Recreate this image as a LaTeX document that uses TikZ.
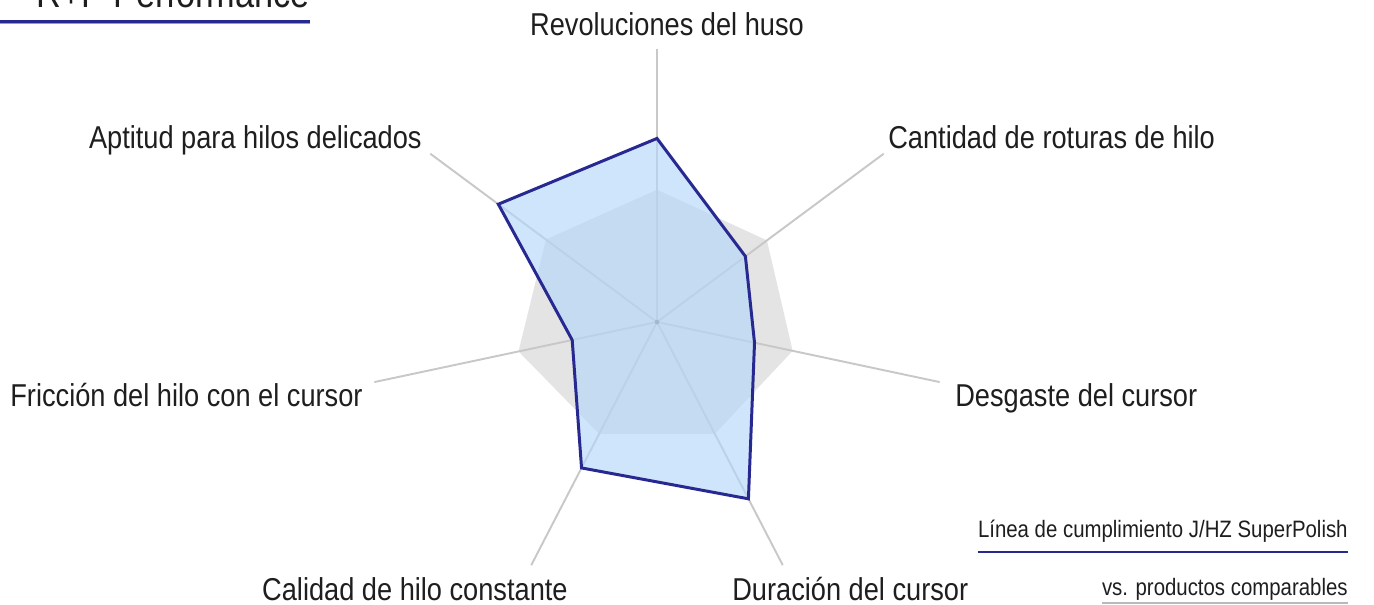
\documentclass[tikz,border=0pt]{standalone}
\usepackage{fontspec}
\setmainfont{Liberation Sans}[FakeStretch=0.86]
\usetikzlibrary{calc}
\definecolor{navyline}{RGB}{40,40,145}
\definecolor{lightnavy}{RGB}{150,150,215}
\definecolor{fillblue}{RGB}{180,215,250}
\definecolor{axisgray}{RGB}{200,200,200}
\definecolor{areagray}{RGB}{228,228,228}
\definecolor{rulegray}{RGB}{185,185,185}
\definecolor{txtgray}{RGB}{30,30,30}

\tikzset{
  axislabel/.style={inner sep=0pt, text=txtgray, font=\fontsize{18}{20}\selectfont},
  legendlabel/.style={inner sep=0pt, text=txtgray, font=\fontsize{13.5}{15}\selectfont},
  axisline/.style={color=axisgray, line width=1.1pt},
}

\begin{document}
\begin{tikzpicture}[x=0.02cm, y=-0.02cm]
    \useasboundingbox (0,0) rectangle (1374,605);

    % Title (cut at the top edge)
    \node[anchor=base west, inner sep=0pt, text=txtgray, font=\fontsize{22.7}{26}\selectfont] (title) at (36,8) {R+P Performance};
    \draw[color=navyline, line width=1.4pt] (0,21.3) -- ($(title.base east)+(0,13.3)$);
    \draw[color=lightnavy, line width=0.7pt] (0,23.4) -- ($(title.base east)+(0,15.4)$);

    % Radar
    \coordinate (ctr) at (657,322);
    \begin{scope}[shift={(ctr)}, x=5.8cm, y=5.4cm]
        \coordinate (ax1) at (90:1.01);
        \coordinate (ax2) at (38.57:1);
        \coordinate (ax3) at (-12.86:1);
        \coordinate (ax4) at (-64.29:1);
        \coordinate (ax5) at (-115.71:1);
        \coordinate (ax6) at (-167.14:1);
        \coordinate (ax7) at (141.43:1);

        % comparable products
        \fill[areagray] (90:0.49) -- (38.57:0.485) -- (-12.86:0.48) -- (-64.29:0.46)
            -- (-115.71:0.46) -- (-167.14:0.49) -- (141.43:0.49) -- cycle;

        % Axes
        \draw[axisline] (ctr) -- (ax1);
        \draw[axisline] (ctr) -- (ax2);
        \draw[axisline] (ctr) -- (ax3);
        \draw[axisline] (ctr) -- (ax4);
        \draw[axisline] (ctr) -- (ax5);
        \draw[axisline] (ctr) -- (ax6);
        \draw[axisline] (ctr) -- (ax7);
        \fill[color=gray] (ctr) circle (1.3pt);

        % J/HZ SuperPolish
        \filldraw[fill=fillblue, fill opacity=0.65, draw=navyline, line width=1.7pt, line join=miter]
            (90:0.68) -- (38.57:0.39) -- (-12.86:0.345) -- (-64.29:0.727)
            -- (-115.71:0.60) -- (-167.14:0.30) -- (141.43:0.70) -- cycle;
    \end{scope}

    % Axis labels
    \node[axislabel, anchor=base] (revol) at (667,35) {Revoluciones del huso};
    \node[axislabel, anchor=base west] (roturas) at (888,148) {Cantidad de roturas de hilo};
    \node[axislabel, anchor=base west] (desgaste) at (955,406) {Desgaste del cursor};
    \node[axislabel, anchor=base west] (duracion) at (732,600) {Duración del cursor};
    \node[axislabel, anchor=base east] (calidad) at (568,600) {Calidad de hilo constante};
    \node[axislabel, anchor=base west] (friccion) at (10,406) {Fricción del hilo con el cursor};
    \node[axislabel, anchor=base east] (aptitud) at (422,148) {Aptitud para hilos delicados};

    % Legend
    \node[legendlabel, anchor=base east] (legblue) at (1348,537) {Línea de cumplimiento J/HZ SuperPolish};
    \draw[color=navyline, line width=1.5pt] ($(legblue.base west)+(0,15)$) -- ($(legblue.base east)+(0,15)$);
    \node[legendlabel, anchor=base east] (leggray) at (1348,595) {vs. productos comparables};
    \draw[color=rulegray, line width=1.1pt] ($(leggray.base west)+(0,8)$) -- ($(leggray.base east)+(0,8)$);

\end{tikzpicture}
\end{document}
